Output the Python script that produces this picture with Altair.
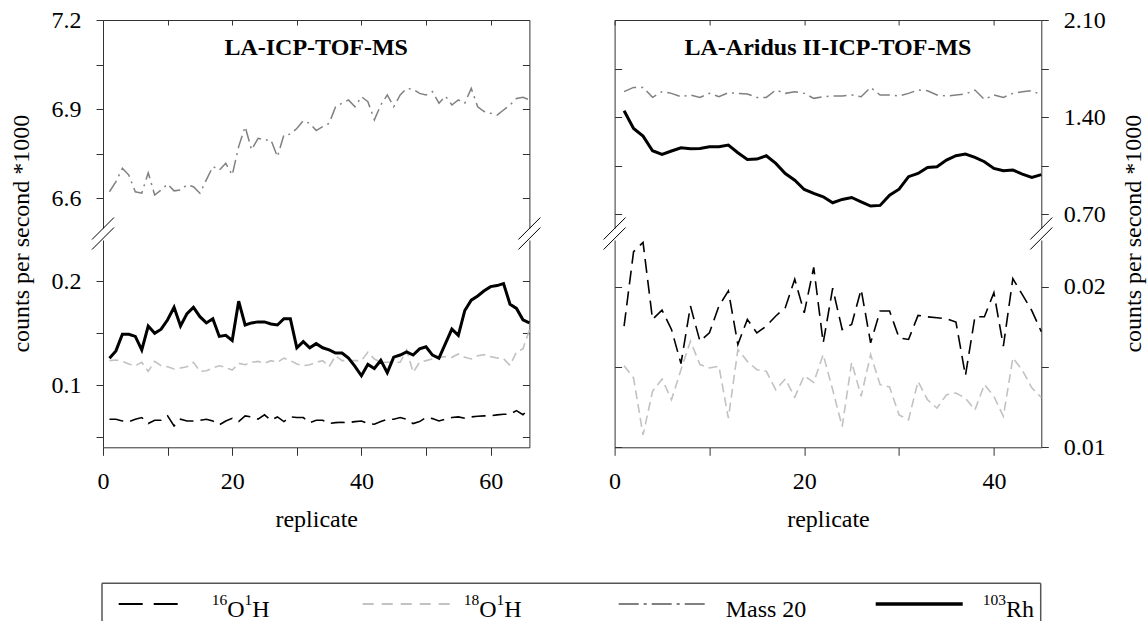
import altair as alt
import pandas as pd

FONT = "Liberation Serif"
AX = "#333333"
FS = 24
SUP_FS = 15.5

PANEL_TITLES = ["LA-ICP-TOF-MS", "LA-Aridus II-ICP-TOF-MS"]
Y_TITLE = "counts per second *1000"
X_TITLE = "replicate"
SERIES = ["16O1H", "18O1H", "Mass 20", "103Rh"]
# legend labels as (text, is_superscript) pieces
LEGEND_LABELS = [[("16", True), ("O", False), ("1", True), ("H", False)],
                 [("18", True), ("O", False), ("1", True), ("H", False)],
                 [("Mass 20", False)],
                 [("103", True), ("Rh", False)]]

# ---------------- data ----------------
LEFT_REPLICATE = list(range(1, 67))
LEFT_OH16 = [0.0671, 0.0671, 0.0654, 0.0648, 0.0671, 0.0687, 0.0629, 0.0661, 0.0661, 0.0703,
             0.0606, 0.0671, 0.0654, 0.0654, 0.0661, 0.0671, 0.0654, 0.0616, 0.0654, 0.0680,
             0.0648, 0.0703, 0.0693, 0.0671, 0.0713, 0.0661, 0.0693, 0.0648, 0.0693, 0.0687,
             0.0687, 0.0638, 0.0661, 0.0661, 0.0629, 0.0638, 0.0641, 0.0638, 0.0648, 0.0654,
             0.0629, 0.0622, 0.0648, 0.0671, 0.0671, 0.0687, 0.0671, 0.0629, 0.0648, 0.0687,
             0.0677, 0.0654, 0.0671, 0.0687, 0.0693, 0.0680, 0.0693, 0.0700, 0.0703, 0.0703,
             0.0713, 0.0719, 0.0720, 0.0754, 0.0715, 0.0770]
LEFT_OH18 = [0.1236, 0.1242, 0.1229, 0.1203, 0.1187, 0.1220, 0.1132, 0.1229, 0.1187, 0.1178,
             0.1155, 0.1165, 0.1178, 0.1220, 0.1132, 0.1139, 0.1165, 0.1187, 0.1170, 0.1145,
             0.1210, 0.1197, 0.1220, 0.1229, 0.1210, 0.1236, 0.1220, 0.1260, 0.1236, 0.1203,
             0.1187, 0.1197, 0.1220, 0.1236, 0.1178, 0.1284, 0.1236, 0.1236, 0.1236, 0.1236,
             0.1317, 0.1252, 0.1220, 0.1220, 0.1220, 0.1220, 0.1339, 0.1123, 0.1220, 0.1236,
             0.1252, 0.1268, 0.1275, 0.1268, 0.1300, 0.1268, 0.1252, 0.1284, 0.1294, 0.1275,
             0.1262, 0.1255, 0.1190, 0.1320, 0.1350, 0.1530]
LEFT_MASS20 = [6.622, 6.656, 6.701, 6.678, 6.622, 6.617, 6.686, 6.611, 6.628, 6.648,
               6.625, 6.628, 6.645, 6.639, 6.617, 6.662, 6.707, 6.695, 6.718, 6.678,
               6.774, 6.841, 6.763, 6.802, 6.796, 6.796, 6.740, 6.813, 6.816, 6.835,
               6.861, 6.852, 6.828, 6.841, 6.852, 6.908, 6.920, 6.931, 6.908, 6.942,
               6.925, 6.864, 6.914, 6.948, 6.908, 6.948, 6.970, 6.967, 6.953, 6.948,
               6.959, 6.920, 6.944, 6.914, 6.931, 6.920, 6.970, 6.908, 6.892, 6.886,
               6.880, 6.897, 6.914, 6.936, 6.940, 6.931]
LEFT_RH = [0.126, 0.133, 0.149, 0.149, 0.147, 0.134, 0.157, 0.150, 0.154, 0.163,
           0.175, 0.157, 0.169, 0.175, 0.166, 0.160, 0.164, 0.147, 0.148, 0.143,
           0.181, 0.158, 0.160, 0.161, 0.161, 0.159, 0.158, 0.164, 0.164, 0.136,
           0.142, 0.136, 0.140, 0.136, 0.134, 0.131, 0.131, 0.126, 0.118, 0.109,
           0.120, 0.116, 0.124, 0.112, 0.127, 0.129, 0.132, 0.129, 0.135, 0.137,
           0.129, 0.126, 0.140, 0.154, 0.148, 0.172, 0.182, 0.186, 0.191, 0.195,
           0.196, 0.198, 0.178, 0.174, 0.163, 0.160]

RIGHT_REPLICATE = list(range(1, 46))
RIGHT_OH16 = [0.01754, 0.02217, 0.02275, 0.01796, 0.01854, 0.01733, 0.01521, 0.01879, 0.01660, 0.01712,
              0.01879, 0.01973, 0.01640, 0.01796, 0.01712, 0.01754, 0.01817, 0.01869, 0.02046, 0.01837,
              0.02120, 0.01650, 0.01990, 0.01733, 0.01765, 0.01983, 0.01650, 0.01848, 0.01848, 0.01681,
              0.01671, 0.01821, 0.01812, 0.01806, 0.01800, 0.01779, 0.01446, 0.01812, 0.01812, 0.01962,
              0.01629, 0.02050, 0.01950, 0.01850, 0.01720]
RIGHT_OH18 = [0.01508, 0.01431, 0.01077, 0.01348, 0.01425, 0.01296, 0.01483, 0.01660, 0.01515, 0.01494,
              0.01504, 0.01181, 0.01608, 0.01535, 0.01483, 0.01473, 0.01358, 0.01425, 0.01312, 0.01446,
              0.01404, 0.01577, 0.01358, 0.01129, 0.01529, 0.01317, 0.01577, 0.01390, 0.01375, 0.01202,
              0.01171, 0.01410, 0.01296, 0.01244, 0.01327, 0.01338, 0.01306, 0.01233, 0.01390, 0.01317,
              0.01192, 0.01556, 0.01480, 0.01370, 0.01310]
RIGHT_MASS20 = [1.583, 1.614, 1.614, 1.542, 1.583, 1.571, 1.547, 1.559, 1.542, 1.571,
                1.547, 1.576, 1.571, 1.566, 1.542, 1.542, 1.595, 1.571, 1.583, 1.571,
                1.535, 1.547, 1.552, 1.552, 1.559, 1.547, 1.614, 1.559, 1.559, 1.552,
                1.571, 1.595, 1.590, 1.559, 1.552, 1.559, 1.566, 1.595, 1.527, 1.559,
                1.542, 1.571, 1.583, 1.590, 1.560]
RIGHT_RH = [1.446, 1.318, 1.263, 1.157, 1.131, 1.155, 1.179, 1.171, 1.174, 1.186,
            1.186, 1.198, 1.143, 1.094, 1.097, 1.121, 1.066, 0.993, 0.945, 0.878,
            0.849, 0.825, 0.782, 0.806, 0.820, 0.789, 0.758, 0.763, 0.837, 0.880,
            0.970, 0.993, 1.037, 1.042, 1.090, 1.121, 1.133, 1.109, 1.078, 1.030,
            1.013, 1.018, 0.989, 0.965, 0.985]

# axis domains / tick values (upper and lower part of each broken axis)
LEFT_X_DOMAIN = [0, 66]
RIGHT_X_DOMAIN = [0, 45]
LEFT_X_TICKS = [0, 10, 20, 30, 40, 50, 60]
RIGHT_X_TICKS = [0, 10, 20, 30, 40]
LU_DOMAIN = [6.5, 7.2]
LU_TICKS = [6.6, 6.75, 6.9, 7.05, 7.2]
LL_DOMAIN = [0.04, 0.24]
LL_TICKS = [0.05, 0.1, 0.15, 0.2]
RU_DOMAIN = [0.6, 2.1]
RU_TICKS = [0.7, 1.05, 1.4, 1.75, 2.1]
RL_DOMAIN = [0.01, 0.0229]
RL_TICKS = [0.01, 0.015, 0.02]

STYLE = {
    "16O1H": dict(color="#000000", width=1.6, dash=[14, 7], ldash=[24, 11], lwidth=2),
    "18O1H": dict(color="#c2c2c2", width=1.6, dash=[9, 5], ldash=[11, 8], lwidth=2),
    "Mass 20": dict(color="#808080", width=1.5, dash=[13, 5, 2, 5], ldash=[20, 5, 3, 5], lwidth=2),
    "103Rh": dict(color="#000000", width=3, dash=None, ldash=None, lwidth=3.5),
}

# ---------------- layout ----------------
W_L, W_R = 426.4, 426.7
H_U, H_L = 208, 207.3
GAP = 12
COL_GAP = 84.6
# approximate Times advance widths (em) for composing superscript labels
CHAR_EM = {"O": 0.722, "H": 0.722, "R": 0.667, "h": 0.5}


def long_frame(xs, cols):
    rows = []
    for name, vals in cols.items():
        for x, v in zip(xs, vals):
            rows.append({"x": x, "series": name, "value": v})
    return pd.DataFrame(rows)


left_df = long_frame(LEFT_REPLICATE, {"16O1H": LEFT_OH16, "18O1H": LEFT_OH18,
                                      "Mass 20": LEFT_MASS20, "103Rh": LEFT_RH})
right_df = long_frame(RIGHT_REPLICATE, {"16O1H": RIGHT_OH16, "18O1H": RIGHT_OH18,
                                        "Mass 20": RIGHT_MASS20, "103Rh": RIGHT_RH})


def y_axis(values, orient, label_expr=None):
    common = dict(values=values, orient=orient, title=None, grid=False,
                  domainColor=AX, tickColor=AX, domainWidth=1, tickWidth=1)
    if label_expr is None:  # mirrored border: inward ticks, no labels
        return alt.Axis(labels=False, tickSize={"expr": "-7"}, **common)
    return alt.Axis(labelExpr=label_expr, labelFont=FONT, labelFontSize=FS, labelColor="black",
                    labelPadding=15, labelFlush=False, labelOverlap=False, tickSize=7, **common)


def x_axis_top(values):
    return alt.Axis(orient="top", values=values, labels=False, title=None, grid=False,
                    tickSize={"expr": "-5"}, domainColor=AX, tickColor=AX, domainWidth=1)


def x_axis_bottom(values):
    return alt.Axis(orient="bottom", values=values,
                    labelExpr="round(datum.value) % 20 == 0 ? format(datum.value, 'd') : ''",
                    labelFont=FONT, labelFontSize=FS, labelColor="black", labelPadding=14,
                    labelFlush=False, labelOverlap=False, tickSize=8, title=X_TITLE,
                    titleFont=FONT, titleFontSize=FS, titleFontWeight="normal", titleColor="black",
                    titlePadding=14, grid=False, domainColor=AX, tickColor=AX, domainWidth=1)


def brk(cx, cy):
    return alt.Chart().mark_rule(color="black", strokeWidth=1).encode(
        x=alt.value(cx - 11), x2=alt.value(cx + 11), y=alt.value(cy + 11), y2=alt.value(cy - 11))


def section(df, series, xdom, xaxis, ydom, yaxis_main, yaxis_mirror, w, h, extras):
    xenc = alt.X("x:Q", scale=alt.Scale(domain=xdom, nice=False, zero=False), axis=xaxis)
    ysc = alt.Scale(domain=ydom, nice=False, zero=False)
    lines = []
    for s in series:
        st = STYLE[s]
        mk = dict(color=st["color"], strokeWidth=st["width"])
        if st["dash"]:
            mk["strokeDash"] = st["dash"]
        lines.append(alt.Chart(df).transform_filter(alt.datum.series == s).mark_line(**mk).encode(
            x=xenc, y=alt.Y("value:Q", scale=ysc, axis=yaxis_main)))
    main = alt.layer(*lines)
    mirror = alt.Chart(df).transform_filter(alt.datum.series == series[0]).mark_line(
        strokeOpacity=0).encode(x=xenc, y=alt.Y("value:Q", scale=ysc, axis=yaxis_mirror))
    return alt.layer(main, mirror, *extras).resolve_scale(y="independent").properties(width=w, height=h)


def title_text(txt, w):
    return alt.Chart().mark_text(text=txt, font=FONT, fontSize=24, fontWeight="bold",
                                 align="center", baseline="middle", color="black").encode(
        x=alt.value(w / 2), y=alt.value(28))


def ytitle_text(x):
    return alt.Chart().mark_text(text=Y_TITLE, font=FONT, fontSize=FS, angle=270,
                                 align="center", baseline="middle", color="black").encode(
        x=alt.value(x), y=alt.value((H_U + GAP + H_L) / 2))


def breaks(w):
    return [brk(0, H_U + 0.5), brk(0, H_U + 10.5), brk(w, H_U + 0.5), brk(w, H_U + 10.5)]


# ---------------- legend (drawn below the left lower panel, spanning both panels) ----------------
LEG_TOP = 343.3          # relative to the lower-left plot's top
LEG_BOTTOM = 381
LEG_LEFT = -1
LEG_RIGHT = W_L + COL_GAP + W_R
LEG_LINE_Y = 364
LEG_BASE_Y = 376.5
LEG_SAMPLE = [(15.7, 74.7), (259.7, 347.7), (515.7, 602.7), (772.7, 859.7)]
LEG_TEXT_X = [108.7, 360.7, 622.7, 879.7]


def legend_layers():
    box = dict(color="#555555", strokeWidth=1.5)
    layers = [
        alt.Chart().mark_rule(**box).encode(x=alt.value(LEG_LEFT), x2=alt.value(LEG_RIGHT),
                                            y=alt.value(LEG_TOP)),
        alt.Chart().mark_rule(**box).encode(x=alt.value(LEG_LEFT), y=alt.value(LEG_TOP),
                                            y2=alt.value(LEG_BOTTOM)),
        alt.Chart().mark_rule(**box).encode(x=alt.value(LEG_RIGHT), y=alt.value(LEG_TOP),
                                            y2=alt.value(LEG_BOTTOM)),
    ]
    for s, pieces, (a, b), tx in zip(SERIES, LEGEND_LABELS, LEG_SAMPLE, LEG_TEXT_X):
        st = STYLE[s]
        mk = dict(color=st["color"], strokeWidth=st["lwidth"])
        if st["ldash"]:
            mk["strokeDash"] = st["ldash"]
        layers.append(alt.Chart().mark_rule(**mk).encode(
            x=alt.value(a), x2=alt.value(b), y=alt.value(LEG_LINE_Y)))
        cx = tx
        for txt, sup in pieces:
            size = SUP_FS if sup else FS
            y = LEG_BASE_Y - 11.5 if sup else LEG_BASE_Y
            layers.append(alt.Chart().mark_text(text=txt, font=FONT, fontSize=size, align="left",
                                                baseline="alphabetic", color="black").encode(
                x=alt.value(cx), y=alt.value(y)))
            cx += sum(CHAR_EM.get(c, 0.5) for c in txt) * size
    return layers


LU_EXPR = "round(datum.value*100) % 30 == 0 ? format(datum.value, '.1f') : ''"
LL_EXPR = "round(datum.value*100) % 10 == 0 ? format(datum.value, '.1f') : ''"
RU_EXPR = "round(datum.value*100) % 70 == 0 ? format(datum.value, '.2f') : ''"
RL_EXPR = "round(datum.value*1000) % 10 == 0 ? format(datum.value, '.2f') : ''"

UL = section(left_df, ["Mass 20"], LEFT_X_DOMAIN, x_axis_top(LEFT_X_TICKS),
             LU_DOMAIN, y_axis(LU_TICKS, "left", LU_EXPR), y_axis(LU_TICKS, "right"),
             W_L, H_U, [title_text(PANEL_TITLES[0], W_L), ytitle_text(-81)] + breaks(W_L))
LL = section(left_df, ["16O1H", "18O1H", "103Rh"], LEFT_X_DOMAIN, x_axis_bottom(LEFT_X_TICKS),
             LL_DOMAIN, y_axis(LL_TICKS, "left", LL_EXPR), y_axis(LL_TICKS, "right"),
             W_L, H_L, legend_layers())
UR = section(right_df, ["Mass 20", "103Rh"], RIGHT_X_DOMAIN, x_axis_top(RIGHT_X_TICKS),
             RU_DOMAIN, y_axis(RU_TICKS, "right", RU_EXPR), y_axis(RU_TICKS, "left"),
             W_R, H_U, [title_text(PANEL_TITLES[1], W_R), ytitle_text(W_R + 93)] + breaks(W_R))
LR = section(right_df, ["16O1H", "18O1H"], RIGHT_X_DOMAIN, x_axis_bottom(RIGHT_X_TICKS),
             RL_DOMAIN, y_axis(RL_TICKS, "right", RL_EXPR), y_axis(RL_TICKS, "left"),
             W_R, H_L, [])

chart = alt.concat(UL, UR, LL, LR, columns=2, spacing={"row": GAP, "column": COL_GAP},
                   bounds="flush").properties(
    padding={"left": 9, "top": 8, "right": 0, "bottom": 0}, background="white"
).configure_view(stroke=None)

chart.save("out.html", embed_options={"renderer": "svg", "actions": False})
